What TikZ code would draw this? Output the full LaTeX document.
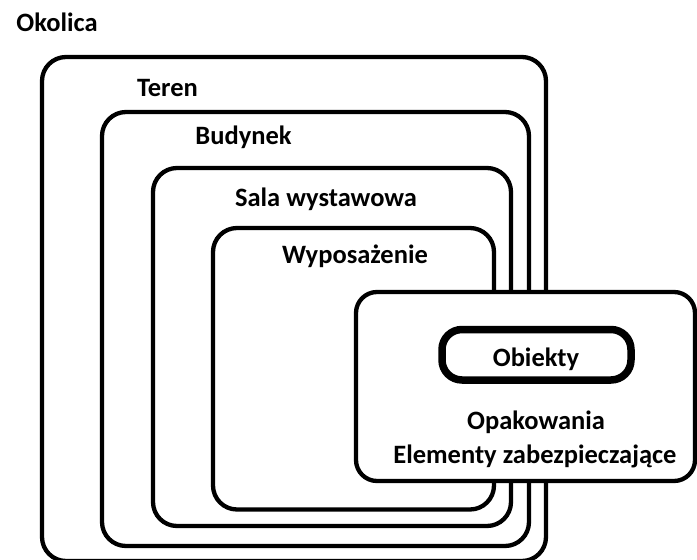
\documentclass[tikz,border=0pt]{standalone}
\usepackage{fontspec}
\setmainfont{Carlito}
\begin{document}
\begin{tikzpicture}[x=1pt,y=-1pt,
  frame/.style={draw=black, line width=4.3pt, rounded corners=24pt, inner sep=0pt, fill=none},
  lbl/.style={font=\fontsize{26.5}{31}\selectfont\bfseries, inner sep=0pt, anchor=base}]
\useasboundingbox (0,0) rectangle (697,560);
\node[frame, minimum width=504pt, minimum height=504pt] (teren) at (294,309) {};
\node[frame, minimum width=427pt, minimum height=434pt] (budynek) at (315.5,329) {};
\node[frame, minimum width=358pt, minimum height=358pt] (sala) at (332,347) {};
\node[frame, minimum width=281pt, minimum height=281.5pt] (wyp) at (353.5,368.75) {};
\node[frame, fill=white, rounded corners=21pt, minimum width=339pt, minimum height=189pt] (opak) at (525.5,386.5) {};
\node[frame, fill=white, line width=7.5pt, rounded corners=20pt, minimum width=189pt, minimum height=50.5pt] (obiekty) at (536.5,354.75) {};
\node[lbl] (tokolica) at (57,31) {Okolica};
\node[lbl] (tteren) at (167.5,96) {Teren};
\node[lbl] (tbudynek) at (243.5,144) {Budynek};
\node[lbl] (tsala) at (326,206) {Sala wystawowa};
\node[lbl] (twyp) at (355,263) {Wyposażenie};
\node[lbl] (tobiekty) at (536,366) {Obiekty};
\node[lbl] (topak) at (536,429) {Opakowania};
\node[lbl] (telem) at (535,463) {Elementy zabezpieczające};
\end{tikzpicture}
\end{document}
